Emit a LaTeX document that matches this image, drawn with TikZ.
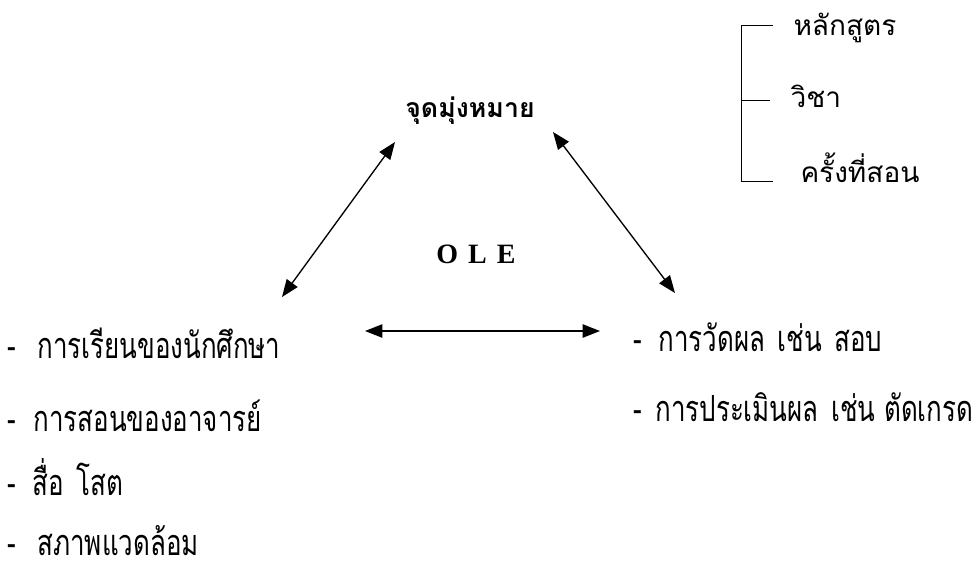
\documentclass[tikz,border=0pt]{standalone}
\usepackage{fontspec}
\setmainfont{Liberation Serif}
\newfontfamily\thaifont[Script=Thai]{Loma}
\newfontfamily\thainarrow[Script=Thai,FakeStretch=0.72]{Loma}
\usetikzlibrary{arrows.meta}
\tikzset{every picture/.style={line width=0.75pt}}
\tikzset{
  thaitext/.style={font=\thaifont\fontsize{21}{25}\selectfont, inner sep=0pt, anchor=base west},
  listtext/.style={font=\thainarrow\fontsize{27}{30}\selectfont, inner sep=0pt, anchor=base west},
  dbl/.style={{Triangle[length=13pt,width=10pt]}-{Triangle[length=13pt,width=10pt]}, line width=1pt}
}

\begin{document}
\begin{tikzpicture}[x=0.75pt,y=0.75pt,yscale=-1,xscale=1]
	\path[use as bounding box] (0,0) rectangle (980,565);

	% Text Node
	\node[inner sep=0pt, anchor=base, font=\thaifont\bfseries\fontsize{20}{24}\selectfont] (aim) at (470,117) {จุดมุ่งหมาย};
	% Text Node
	\node[inner sep=0pt, anchor=base, font=\bfseries\fontsize{21}{24}\selectfont] (ole) at (476,263) {O\hspace{7.5pt}L\hspace{7.5pt}E};

	%Bracket
	\coordinate (btop) at (741,25);
	\coordinate (bmid) at (741,100);
	\coordinate (bbot) at (741,181);
	\draw (773,25) -- (btop) -- (bbot) -- (773,181) ;
	\draw (bmid) -- (770,100) ;
	% Text Node
	\node[thaitext] (course) at (793,35) {หลักสูตร};
	% Text Node
	\node[thaitext] (subject) at (790,107) {วิชา};
	% Text Node
	\node[thaitext] (session) at (800,182) {ครั้งที่สอน};

	%Arrows
	\coordinate (a1s) at (282,297);
	\coordinate (a1e) at (395,142);
	\draw [dbl] (a1s) -- (a1e) ;
	\coordinate (a2s) at (553,132);
	\coordinate (a2e) at (675,293);
	\draw [dbl] (a2s) -- (a2e) ;
	\coordinate (a3s) at (365,331);
	\coordinate (a3e) at (600,331);
	\draw [dbl] (a3s) -- (a3e) ;

	% Text Node
	\node[listtext] (learn) at (7,358) {\makebox[22.5pt][l]{-}การเรียนของนักศึกษา};
	% Text Node
	\node[listtext] (teach) at (7,431) {\makebox[19.5pt][l]{-}การสอนของอาจารย์};
	% Text Node
	\node[listtext] (media) at (7,495) {\makebox[18.75pt][l]{-}สื่อ\hspace{0.35em}โสต};
	% Text Node
	\node[listtext, text depth=0pt] (env) at (7,555) {\makebox[22.5pt][l]{-}สภาพแวดล้อม};

	% Text Node
	\node[listtext] (measure) at (633,351) {\makebox[18.75pt][l]{-}การวัดผล\hspace{0.35em}เช่น\hspace{0.35em}สอบ};
	% Text Node
	\node[listtext] (assess) at (633,421) {\makebox[16.5pt][l]{-}การประเมินผล\hspace{0.35em}เช่น ตัดเกรด};

\end{tikzpicture}
\end{document}
